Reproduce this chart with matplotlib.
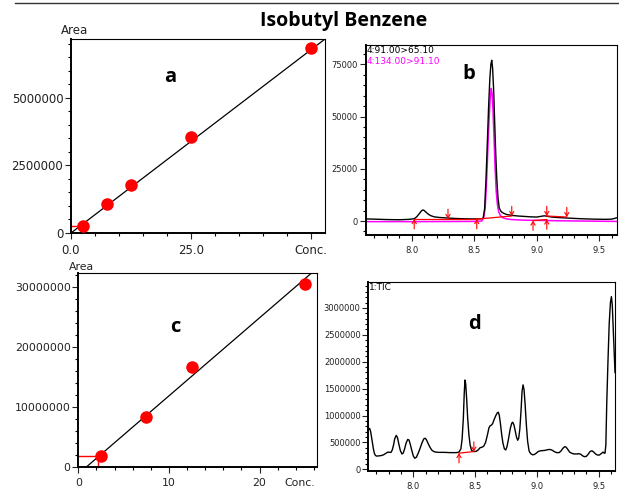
import matplotlib.pyplot as plt
from matplotlib.lines import Line2D
from matplotlib.ticker import MultipleLocator

# ---- calibration a ----
conc_a = [2.5, 7.5, 12.5, 25.0, 50.0]
area_a = [270000, 1085000, 1780000, 3570000, 6830000]
fit_a = (135700, 0)          # slope, intercept
fit_a_x = [0.0, 52.9]
sample_a = (2.0, 270000)

# ---- calibration c ----
conc_c = [2.5, 7.5, 12.5, 25.0]
area_c = [1870000, 8340000, 16700000, 30500000]
fit_c = (1296000, -1101600)
fit_c_x = [0.85, 25.7]
sample_c = (2.2, 1870000)

# ---- chromatogram b (MRM traces) ----
rt_b_black = [7.632, 7.7, 7.8, 7.9, 7.98, 8.02, 8.04, 8.06, 8.08, 8.09, 8.1, 8.115, 8.13,
              8.15, 8.18, 8.22, 8.27, 8.32, 8.4, 8.48, 8.53, 8.56, 8.572, 8.583, 8.594,
              8.605, 8.615, 8.625, 8.633, 8.64, 8.647, 8.655, 8.663, 8.672, 8.68, 8.69,
              8.70, 8.715, 8.732, 8.76, 8.8, 8.85, 8.9, 8.95, 9.0, 9.04, 9.06, 9.08, 9.12,
              9.16, 9.25, 9.35, 9.45, 9.55, 9.6, 9.644]
int_b_black = [1000, 900, 700, 600, 800, 1100, 2000, 3500, 5000, 5300, 5000, 4200, 3400,
               2600, 2000, 1700, 1500, 1300, 1100, 1000, 1000, 1100, 1500, 6000, 20000,
               38000, 55000, 68500, 75000, 77000, 73000, 63000, 48000, 32000, 20600, 11000,
               6200, 4500, 3800, 3100, 2700, 2400, 2200, 2000, 1900, 2300, 2500, 2300, 1900,
               1700, 1400, 1100, 900, 800, 900, 1600]
rt_b_mag = [7.632, 8.0, 8.5, 8.56, 8.575, 8.587, 8.598, 8.608, 8.618, 8.628, 8.636, 8.643,
            8.65, 8.658, 8.667, 8.676, 8.685, 8.695, 8.71, 8.73, 8.76, 8.8, 8.9, 9.0, 9.2,
            9.644]
int_b_mag = [-300, -300, -200, 0, 1500, 6000, 18000, 33000, 48000, 59000, 63500, 61000,
             53000, 40000, 25000, 14000, 8000, 4500, 2500, 1500, 1000, 700, 400, 300, 100,
             -200]
b_trace_labels = ["4:91.00>65.10", "4:134.00>91.10"]
# integration baselines: (x1, y1, x2, y2)
b_baselines = [(8.02, 900, 8.52, 900), (8.52, 900, 8.80, 2400),
               (8.97, 200, 9.08, 700), (9.08, 2400, 9.24, 1900)]
b_up_arrows = [(8.02, 900), (8.52, 900), (8.97, 200), (9.08, 700)]
b_down_arrows = [(8.29, 1000), (8.80, 2400), (9.08, 2400), (9.24, 1900)]

# ---- chromatogram d (TIC) ----
rt_d = [7.636, 7.642, 7.648, 7.655, 7.662, 7.670, 7.678, 7.686, 7.695, 7.705, 7.72, 7.74,
        7.76, 7.78, 7.795, 7.81, 7.82, 7.83, 7.84, 7.85, 7.862, 7.872, 7.882, 7.895, 7.908,
        7.918, 7.93, 7.942, 7.955, 7.965, 7.975, 7.988, 8.0, 8.012, 8.025, 8.04, 8.055,
        8.07, 8.085, 8.095, 8.105, 8.12, 8.135, 8.15, 8.17, 8.2, 8.25, 8.3, 8.35, 8.37,
        8.385, 8.395, 8.405, 8.412, 8.418, 8.424, 8.432, 8.44, 8.45, 8.46, 8.47, 8.48,
        8.495, 8.51, 8.525, 8.54, 8.555, 8.57, 8.585, 8.6, 8.612, 8.622, 8.632, 8.642,
        8.655, 8.668, 8.68, 8.688, 8.696, 8.705, 8.715, 8.725, 8.737, 8.748, 8.758, 8.77,
        8.785, 8.797, 8.805, 8.815, 8.826, 8.836, 8.845, 8.853, 8.862, 8.872, 8.88, 8.888,
        8.896, 8.905, 8.915, 8.925, 8.937, 8.95, 8.965, 8.98, 8.995, 9.01, 9.03, 9.06,
        9.08, 9.1, 9.12, 9.14, 9.16, 9.18, 9.195, 9.21, 9.225, 9.235, 9.25, 9.265, 9.28,
        9.3, 9.32, 9.34, 9.355, 9.37, 9.385, 9.4, 9.415, 9.43, 9.445, 9.46, 9.475, 9.49,
        9.505, 9.52, 9.535, 9.545, 9.551, 9.558, 9.565, 9.575, 9.585, 9.595, 9.603, 9.61,
        9.62, 9.632]
tic_d = [730, 760, 755, 700, 600, 480, 370, 290, 255, 245, 250, 255,
         270, 300, 320, 315, 315, 360, 450, 570, 630, 590, 480, 350, 285,
         300, 380, 490, 555, 545, 470, 350, 250, 205, 225, 300, 390,
         490, 565, 578, 555, 480, 410, 355, 325, 315, 315, 310, 310, 320,
         380, 560, 950, 1400, 1660, 1590, 1300, 950, 640, 450, 360, 335,
         330, 335, 360, 400, 410, 430, 500, 640, 770, 810, 820, 850,
         930, 1000, 1050, 1060, 1000, 850, 650, 490, 380, 360, 420, 560,
         760, 860, 875, 820, 700, 590, 540, 580, 750, 1100, 1450, 1570,
         1480, 1200, 820, 520, 340, 290, 270, 275, 300, 330, 345, 350,
         360, 370, 360, 330, 310, 310, 340, 390, 420, 415, 370, 320, 300,
         285, 285, 290, 280, 250, 235, 240, 280, 330, 345, 320, 285, 265,
         265, 290, 320, 300, 300, 450, 1200, 2000, 2700, 3100, 3210, 3050,
         2500, 1800]
tic_d = [v * 1000 for v in tic_d]
d_baseline = (8.37, 300000, 8.49, 330000)

TICK_FONT = "DejaVu Sans"
BOLD_FONT = "Open Sans"


def _style_axes(ax, size):
    for side in ("left", "bottom"):
        ax.spines[side].set_linewidth(1.4)
    for side in ("top", "right"):
        ax.spines[side].set_linewidth(0.8)
    ax.tick_params(which="major", direction="out", length=4, width=0.8, pad=1.5,
                   labelsize=size, colors="#222222")
    ax.tick_params(which="minor", direction="out", length=2.5, width=0.8)
    ax.tick_params(axis="x", pad=4)
    for lab in ax.get_xticklabels() + ax.get_yticklabels():
        lab.set_fontfamily(TICK_FONT)


def _calibration(ax, conc, area, fit, fit_x, sample, letter, pos, size):
    slope, icpt = fit
    ax.plot(fit_x, [slope * x + icpt for x in fit_x], color="black", lw=0.9, zorder=2)
    ax.plot([0, sample[0], sample[0]], [sample[1], sample[1], 0], color="red", lw=1.0,
            zorder=2, clip_on=False)
    ax.plot(conc, area, "o", color="#ff0000", ms=8, zorder=3)
    ax.text(-0.04, 1.008, "Area", transform=ax.transAxes, fontsize=size, family=TICK_FONT,
            color="#222222", va="bottom", ha="left")
    ax.text(pos[0], pos[1], letter, transform=ax.transAxes, fontsize=14.5,
            fontweight="bold", family=BOLD_FONT, ha="center", va="baseline")


def _arrows(ax, pts, up, color="red"):
    for x, y in pts:
        off = -7 if up else 7
        ax.annotate("", xy=(x, y), xytext=(0, off), textcoords="offset points",
                    arrowprops=dict(arrowstyle="->,head_length=0.25,head_width=0.15",
                                    color=color, lw=0.8, shrinkA=0, shrinkB=0))


fig = plt.figure(figsize=(6.19, 4.93), dpi=100)
fig.add_artist(Line2D([15 / 619, 1.0], [1 - 3 / 493, 1 - 3 / 493], color="#333333", lw=1.0))
fig.text(344 / 619, 1 - 21 / 493, "Isobutyl Benzene", ha="center", va="center",
         fontsize=14, fontweight="bold", family=BOLD_FONT)

# panel a
ax_a = fig.add_axes([71 / 619, 1 - 233 / 493, 254 / 619, 194 / 493])
_calibration(ax_a, conc_a, area_a, fit_a, fit_a_x, sample_a, "a", (0.39, 0.78), 8.5)
ax_a.set_xlim(0, 52.9)
ax_a.set_ylim(0, 7180000)
ax_a.set_xticks([0, 25, 50])
ax_a.set_xticklabels(["0.0", "25.0", "Conc."])
ax_a.xaxis.set_minor_locator(MultipleLocator(5))
ax_a.set_yticks([0, 2500000, 5000000])
ax_a.set_yticklabels(["0", "2500000", "5000000"])
ax_a.yaxis.set_minor_locator(MultipleLocator(500000))
_style_axes(ax_a, 8.5)

# panel c
ax_c = fig.add_axes([78.3 / 619, 1 - 467.3 / 493, 238.4 / 619, 194 / 493])
_calibration(ax_c, conc_c, area_c, fit_c, fit_c_x, sample_c, "c", (0.406, 0.697), 7.8)
ax_c.set_xlim(0, 26.3)
ax_c.set_ylim(0, 32200000)
ax_c.set_xticks([0, 10, 20])
ax_c.xaxis.set_minor_locator(MultipleLocator(2))
ax_c.set_yticks([0, 10000000, 20000000, 30000000])
ax_c.set_yticklabels(["0", "10000000", "20000000", "30000000"])
ax_c.yaxis.set_minor_locator(MultipleLocator(2000000))
_style_axes(ax_c, 7.8)
ax_c.annotate("Conc.", xy=(24.45, 0), xycoords=("data", "axes fraction"),
              xytext=(0, -8), textcoords="offset points", ha="center", va="top",
              fontsize=7.8, family=TICK_FONT, color="#222222", annotation_clip=False)

# panel b
ax_b = fig.add_axes([365.7 / 619, 1 - 235 / 493, 251.6 / 619, 190 / 493])
ax_b.plot(rt_b_mag, int_b_mag, color="#ff00ff", lw=1.1, zorder=2)
ax_b.plot(rt_b_black, int_b_black, color="black", lw=1.0, zorder=3)
for x1, y1, x2, y2 in b_baselines:
    ax_b.plot([x1, x2], [y1, y2], color="red", lw=0.9, zorder=4)
_arrows(ax_b, b_up_arrows, True)
_arrows(ax_b, b_down_arrows, False)
ax_b.text(0.003, 0.995, b_trace_labels[0], transform=ax_b.transAxes, fontsize=6.5,
          family=TICK_FONT, va="top", ha="left", color="black")
ax_b.text(0.003, 0.935, b_trace_labels[1], transform=ax_b.transAxes, fontsize=6.5,
          family=TICK_FONT, va="top", ha="left", color="#ff00ff")
ax_b.text(0.41, 0.819, "b", transform=ax_b.transAxes, fontsize=14.5, fontweight="bold",
          family=BOLD_FONT, ha="center", va="baseline")
ax_b.set_xlim(7.632, 9.644)
ax_b.set_ylim(-6700, 84300)
ax_b.set_xticks([8.0, 8.5, 9.0, 9.5])
ax_b.xaxis.set_minor_locator(MultipleLocator(0.1))
ax_b.set_yticks([0, 25000, 50000, 75000])
ax_b.yaxis.set_minor_locator(MultipleLocator(5000))
_style_axes(ax_b, 6.0)

# panel d
ax_d = fig.add_axes([368.3 / 619, 1 - 470.7 / 493, 246.7 / 619, 188.4 / 493])
ax_d.plot(rt_d, tic_d, color="black", lw=1.0, zorder=3)
ax_d.plot([d_baseline[0], d_baseline[2]], [d_baseline[1], d_baseline[3]], color="red",
          lw=0.9, zorder=4)
_arrows(ax_d, [(d_baseline[0], d_baseline[1])], True)
_arrows(ax_d, [(d_baseline[2], d_baseline[3])], False)
ax_d.text(0.003, 0.995, "1:TIC", transform=ax_d.transAxes, fontsize=6.5, family=TICK_FONT,
          va="top", ha="left", color="black")
ax_d.text(0.429, 0.75, "d", transform=ax_d.transAxes, fontsize=14.5, fontweight="bold",
          family=BOLD_FONT, ha="center", va="baseline")
ax_d.set_xlim(7.636, 9.632)
ax_d.set_ylim(-26000, 3476000)
ax_d.set_xticks([8.0, 8.5, 9.0, 9.5])
ax_d.xaxis.set_minor_locator(MultipleLocator(0.1))
ax_d.set_yticks([0, 500000, 1000000, 1500000, 2000000, 2500000, 3000000])
ax_d.set_yticklabels(["0", "500000", "1000000", "1500000", "2000000", "2500000", "3000000"])
ax_d.yaxis.set_minor_locator(MultipleLocator(100000))
_style_axes(ax_d, 6.0)

fig.savefig("out.png", dpi=100)
plt.close(fig)
